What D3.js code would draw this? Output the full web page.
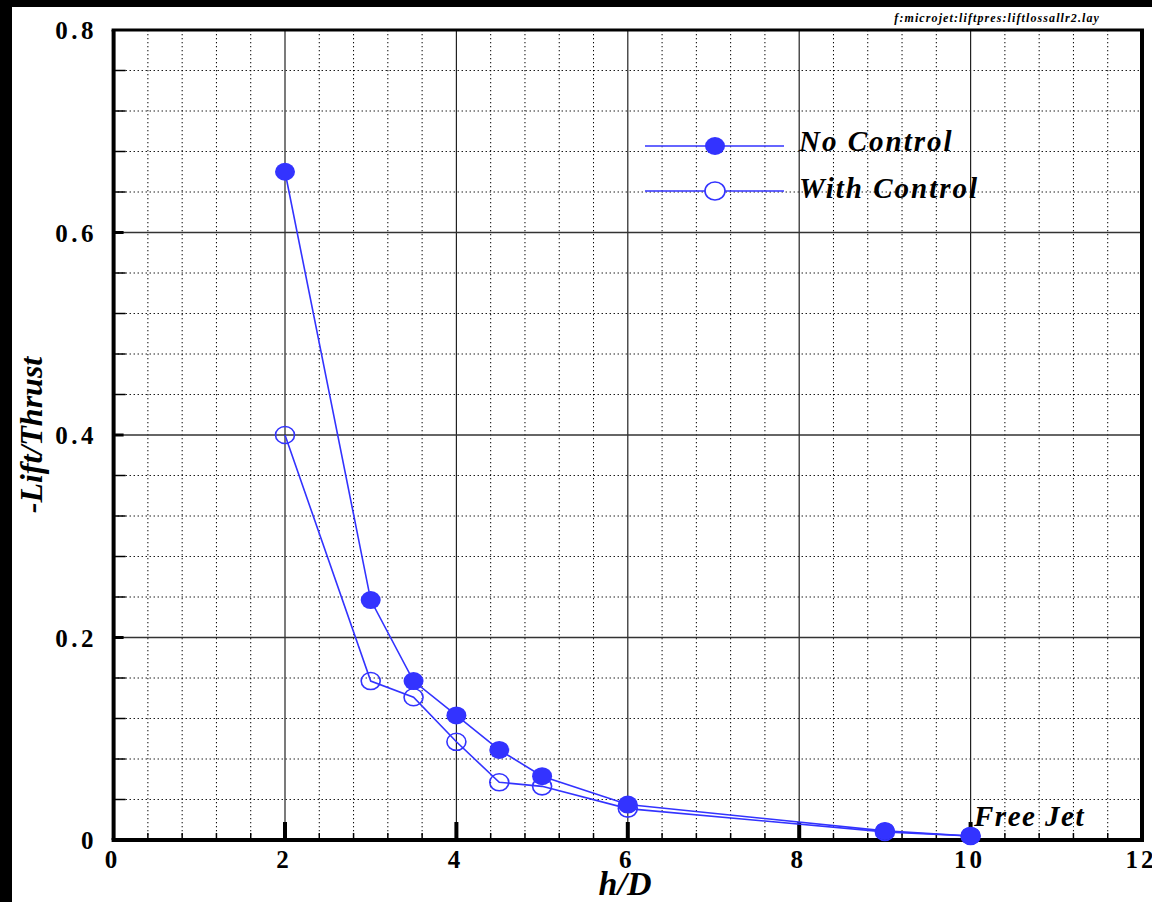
<!DOCTYPE html>
<html>
<head>
<meta charset="utf-8">
<script src="https://cdn.jsdelivr.net/npm/d3@7"></script>
<style>
  html, body { margin: 0; padding: 0; background: #fff; }
  svg { display: block; }
  text { font-family: "Liberation Serif", "Times New Roman", serif; font-weight: bold; }
</style>
</head>
<body>
<svg id="chart" width="1152" height="902"></svg>
<script>
// Lift loss versus nozzle height (h/D)
const hD = [2, 3, 3.5, 4, 4.5, 5, 6, 9, 10];
const noControl = [0.66, 0.237, 0.157, 0.123, 0.089, 0.063, 0.035, 0.009, 0.004];
const withControl = [0.40, 0.157, 0.141, 0.097, 0.057, 0.053, 0.031, 0.008, 0.004];
const xTicks = [0, 2, 4, 6, 8, 10, 12];
const yTicks = [0, 0.2, 0.4, 0.6, 0.8];
const yTickLabels = ["0", "0.2", "0.4", "0.6", "0.8"];
const seriesNames = ["No Control", "With Control"];

(function draw() {
  const svg = d3.select("#chart");
  const W = 1152, H = 902;
  const pL = 113.6, pR = 1142, pT = 30, pB = 840;
  const blue = "#3333ff";

  // outer frame bands
  svg.append("rect").attr("x", 0).attr("y", 0).attr("width", W).attr("height", 7).attr("fill", "#000");
  svg.append("rect").attr("x", 0).attr("y", 0).attr("width", 12).attr("height", H).attr("fill", "#000");

  const x = d3.scaleLinear().domain([0, 12]).range([pL, pR]);
  const y = d3.scaleLinear().domain([0, 0.8]).range([pB, pT]);

  const minorX = d3.range(0, 12.0001, 0.4).filter(v => Math.abs(v / 2 - Math.round(v / 2)) > 1e-6);
  const minorY = d3.range(0, 0.8001, 0.04).filter(v => Math.abs(v / 0.2 - Math.round(v / 0.2)) > 1e-6);

  const grid = svg.append("g");
  // dotted minor grid
  grid.selectAll("line.mx").data(minorX).join("line")
    .attr("x1", d => x(d)).attr("x2", d => x(d)).attr("y1", pT).attr("y2", pB)
    .attr("stroke", "#000").attr("stroke-width", 1).attr("stroke-dasharray", "1.3,2.7");
  grid.selectAll("line.my").data(minorY).join("line")
    .attr("x1", pL).attr("x2", pR).attr("y1", d => y(d)).attr("y2", d => y(d))
    .attr("stroke", "#000").attr("stroke-width", 1).attr("stroke-dasharray", "1.3,2.7");
  // solid major grid
  grid.selectAll("line.Mx").data(xTicks.slice(1, -1)).join("line")
    .attr("x1", d => x(d)).attr("x2", d => x(d)).attr("y1", pT).attr("y2", pB)
    .attr("stroke", "#222").attr("stroke-width", 1.2);
  grid.selectAll("line.My").data(yTicks.slice(1, -1)).join("line")
    .attr("x1", pL).attr("x2", pR).attr("y1", d => y(d)).attr("y2", d => y(d))
    .attr("stroke", "#333").attr("stroke-width", 1.4);

  // ticks on the frame
  const ticks = svg.append("g");
  ticks.selectAll("line.bx").data(minorX).join("line")
    .attr("x1", d => x(d)).attr("x2", d => x(d)).attr("y1", pB).attr("y2", pB - 7)
    .attr("stroke", "#000").attr("stroke-width", 1.5);
  ticks.selectAll("line.bX").data(xTicks.slice(1, -1)).join("line")
    .attr("x1", d => x(d)).attr("x2", d => x(d)).attr("y1", pB).attr("y2", pB - 18)
    .attr("stroke", "#000").attr("stroke-width", 4);
  ticks.selectAll("line.ly").data(minorY).join("line")
    .attr("x1", pL).attr("x2", pL + 12).attr("y1", d => y(d)).attr("y2", d => y(d))
    .attr("stroke", "#000").attr("stroke-width", 1.5);
  ticks.selectAll("line.lY").data(yTicks.slice(1, -1)).join("line")
    .attr("x1", pL).attr("x2", pL + 10).attr("y1", d => y(d)).attr("y2", d => y(d))
    .attr("stroke", "#000").attr("stroke-width", 3);

  // plot frame
  svg.append("line").attr("x1", pL - 2).attr("x2", pR + 2).attr("y1", pT).attr("y2", pT)
    .attr("stroke", "#000").attr("stroke-width", 3);
  svg.append("line").attr("x1", pL - 2).attr("x2", pR + 2).attr("y1", pB).attr("y2", pB)
    .attr("stroke", "#000").attr("stroke-width", 4);
  svg.append("line").attr("x1", pL).attr("x2", pL).attr("y1", pT).attr("y2", pB)
    .attr("stroke", "#000").attr("stroke-width", 4);
  svg.append("line").attr("x1", pR).attr("x2", pR).attr("y1", pT).attr("y2", pB)
    .attr("stroke", "#000").attr("stroke-width", 4);

  // tick labels
  svg.append("g").selectAll("text").data(xTicks).join("text")
    .attr("x", d => x(d) - 1).attr("y", 868)
    .attr("text-anchor", "middle").attr("font-size", 25).attr("letter-spacing", 3)
    .text(d => d);
  svg.append("g").selectAll("text").data(yTicks).join("text")
    .attr("x", 97).attr("y", d => y(d) + 9)
    .attr("text-anchor", "end").attr("font-size", 25).attr("letter-spacing", 3.5)
    .text((d, i) => yTickLabels[i]);

  // axis titles
  svg.append("text").attr("x", 625).attr("y", 895).attr("text-anchor", "middle")
    .attr("font-size", 34).attr("font-style", "italic").text("h/D");
  svg.append("text").attr("transform", "translate(42,435) rotate(-90)").attr("text-anchor", "middle")
    .attr("font-size", 32).attr("font-style", "italic").text("-Lift/Thrust");

  // layout file annotation
  svg.append("text").attr("x", 1100).attr("y", 22).attr("text-anchor", "end")
    .attr("font-size", 12).attr("font-style", "italic").attr("letter-spacing", 1.1)
    .text("f:microjet:liftpres:liftlossallr2.lay");

  // data series
  const line = d3.line().x(d => x(d[0])).y(d => y(d[1]));
  [noControl, withControl].forEach(vals => {
    const pts = hD.map((h, j) => [h, vals[j]]);
    svg.append("path").datum(pts).attr("d", line)
      .attr("fill", "none").attr("stroke", blue).attr("stroke-width", 1.6);
  });
  // open markers below filled ones
  svg.append("g").selectAll("ellipse").data(hD.map((h, j) => [h, withControl[j]])).join("ellipse")
    .attr("cx", d => x(d[0])).attr("cy", d => y(d[1])).attr("rx", 9.5).attr("ry", 8.5)
    .attr("fill", "none").attr("stroke", blue).attr("stroke-width", 1.6);
  svg.append("g").selectAll("ellipse").data(hD.map((h, j) => [h, noControl[j]])).join("ellipse")
    .attr("cx", d => x(d[0])).attr("cy", d => y(d[1])).attr("rx", 10).attr("ry", 9)
    .attr("fill", blue);

  // legend
  const legY = [146, 191];
  const legBase = [151, 198];
  seriesNames.forEach((name, i) => {
    svg.append("line").attr("x1", 645).attr("x2", 784).attr("y1", legY[i]).attr("y2", legY[i])
      .attr("stroke", blue).attr("stroke-width", 1.6);
    const m = svg.append("ellipse").attr("cx", 715).attr("cy", legY[i]).attr("rx", 10).attr("ry", 9);
    if (i === 0) m.attr("fill", blue);
    else m.attr("fill", "#fff").attr("stroke", blue).attr("stroke-width", 1.6);
    svg.append("text").attr("x", 799).attr("y", legBase[i])
      .attr("font-size", 29).attr("font-style", "italic").attr("letter-spacing", 2)
      .text(name);
  });

  // free jet note
  svg.append("text").attr("x", 974).attr("y", 826)
    .attr("font-size", 29).attr("font-style", "italic").attr("letter-spacing", 1.5)
    .text("Free Jet");
})();
</script>
</body>
</html>
